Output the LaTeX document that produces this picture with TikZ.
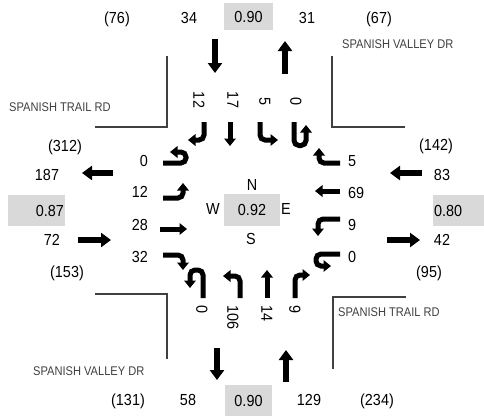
\documentclass[tikz,border=0pt]{standalone}
\usepackage{fontspec}
\setmainfont{Liberation Sans}[FakeStretch=0.9]
\newfontfamily\streetfont{Liberation Sans}[FakeStretch=0.88]
\usetikzlibrary{arrows.meta}
\definecolor{boxgray}{RGB}{217,217,217}
\definecolor{linegray}{RGB}{64,64,64}
\begin{document}
\begin{tikzpicture}[x=1pt,y=-1pt,
  num/.style={font=\fontsize{16}{16}\selectfont, inner sep=0pt, text height=11.4pt, text depth=0pt},
  street/.style={font=\streetfont\fontsize{12.6}{12.6}\selectfont, text=linegray, inner sep=0pt, text height=9pt, text depth=0pt, anchor=west},
  vol/.style={num, rotate=-90},
  gbox/.style={num, fill=boxgray},
  bigarr/.style={line width=6.5pt, -{Triangle[width=14pt,length=10pt]}},
  turnarr/.style={line width=5pt, rounded corners=5pt, -{Triangle[width=11.5pt,length=7.5pt]}},
  curb/.style={line width=1.5pt, linegray}
]
\useasboundingbox (0,0) rectangle (484,416);

% curbs
\draw[curb] (167,56) -- (167,127) -- (95,127);
\draw[curb] (332,56) -- (332,127) -- (405,127);
\draw[curb] (95,294) -- (167,294) -- (167,359);
\draw[curb] (406,297) -- (333,297) -- (333,369);

% street names
\node[street] (sv1) at (342,44) {SPANISH VALLEY DR};
\node[street] (st1) at (9,107) {SPANISH TRAIL RD};
\node[street] (st2) at (338,312) {SPANISH TRAIL RD};
\node[street] (sv2) at (33,371) {SPANISH VALLEY DR};

% approach arrows
\draw[bigarr] (215,39) -- (215,73);
\draw[bigarr] (285,74) -- (285,41);
\draw[bigarr] (217,348) -- (217,380);
\draw[bigarr] (286,382) -- (286,350);
\draw[bigarr] (113,173) -- (82,173);
\draw[bigarr] (78,240) -- (111,240);
\draw[bigarr] (422,173) -- (390,173);
\draw[bigarr] (387,240) -- (420,240);

% top numbers
\node[num] (n1) at (117,18) {(76)};
\node[num] (n2) at (189,18) {34};
\node[gbox, minimum width=49pt, minimum height=27pt] (nphf) at (248.5,16.5) {0.90};
\node[num] (n3) at (307,18) {31};
\node[num] (n4) at (379,18) {(67)};

% bottom numbers
\node[num] (s1) at (128,400) {(131)};
\node[num] (s2) at (188,400) {58};
\node[gbox, minimum width=47pt, minimum height=31pt] (sphf) at (248.5,400.5) {0.90};
\node[num] (s3) at (309,400) {129};
\node[num] (s4) at (377,400) {(234)};

% left numbers
\node[num] (w1) at (65,146) {(312)};
\node[num] (w2) at (47,175) {187};
\node[gbox, minimum width=57pt, minimum height=31pt, text width=55pt, align=right] (wphf) at (36.5,210.5) {0.87};
\node[num] (w3) at (52,240) {72};
\node[num] (w4) at (67,272) {(153)};

% right numbers
\node[num] (e1) at (436,145) {(142)};
\node[num] (e2) at (442,175) {83};
\node[gbox, minimum width=51pt, minimum height=31pt, text width=49pt, align=left] (ephf) at (458.5,210.5) {0.80};
\node[num] (e3) at (442,240) {42};
\node[num] (e4) at (429,272) {(95)};

% centre
\node[gbox, minimum width=56pt, minimum height=32pt] (cphf) at (252,210) {0.92};
\node[num] (cN) at (252,185) {N};
\node[num] (cW) at (213,209) {W};
\node[num] (cE) at (286,209) {E};
\node[num] (cS) at (251,239) {S};

% north approach (southbound)
\draw[turnarr] (204,122) -- (204,140) -- (188,140);
\draw[turnarr] (230,122) -- (230,146);
\draw[turnarr] (260,122) -- (260,140) -- (278,140);
\draw[turnarr] (294,122) -- (294,145.5) -- (306,145.5) -- (306,125);
\node[vol] (nv1) at (199,100) {12};
\node[vol] (nv2) at (233,100) {17};
\node[vol] (nv3) at (265,101) {5};
\node[vol] (nv4) at (296,101) {0};

% west approach (eastbound)
\draw[turnarr] (163,163) -- (186,163) -- (186,152) -- (170,152);
\draw[turnarr] (163,198) -- (183,198) -- (183,183);
\draw[turnarr] (160,229) -- (187,229);
\draw[turnarr] (163,255) -- (183,255) -- (183,270);
\node[num, anchor=east] (wv1) at (148,161) {0};
\node[num, anchor=east] (wv2) at (148,192) {12};
\node[num, anchor=east] (wv3) at (148,225) {28};
\node[num, anchor=east] (wv4) at (148,257) {32};

% east approach (westbound)
\draw[turnarr] (340,163) -- (319,163) -- (319,148);
\draw[turnarr] (340,191) -- (315,191);
\draw[turnarr] (340,219) -- (318,219) -- (318,236);
\draw[turnarr] (340,254) -- (316,254) -- (316,266) -- (331,266);
\node[num, anchor=west] (ev1) at (348,161) {5};
\node[num, anchor=west] (ev2) at (348,193) {69};
\node[num, anchor=west] (ev3) at (348,225) {9};
\node[num, anchor=west] (ev4) at (348,257) {0};

% south approach (northbound)
\draw[turnarr] (203,298) -- (203,270) -- (190,270) -- (190,288);
\draw[turnarr] (240,298) -- (240,276) -- (223,276);
\draw[turnarr] (267,298) -- (267,270);
\draw[turnarr] (295,298) -- (295,275) -- (310,275);
\node[vol, anchor=west] (sv1n) at (202,305) {0};
\node[vol, anchor=west] (sv2n) at (233,305) {106};
\node[vol, anchor=west] (sv3n) at (267,305) {14};
\node[vol, anchor=west] (sv4n) at (295,305) {9};
\end{tikzpicture}
\end{document}
